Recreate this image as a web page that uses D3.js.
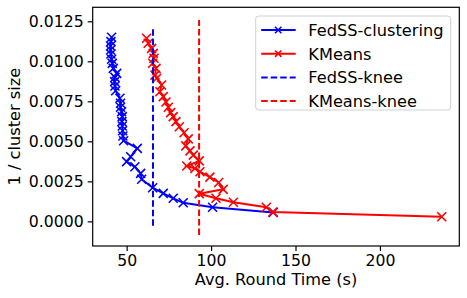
<!DOCTYPE html>
<html>
<head>
<meta charset="utf-8">
<script src="https://cdn.jsdelivr.net/npm/d3@7"></script>
<style>
  body { margin: 0; background: #fff; }
  text { font-family: "DejaVu Sans", sans-serif; }
</style>
</head>
<body>
<div id="chart"></div>
<script>
// values
var fedssX = [41.1, 40.7, 40.5, 40.5, 40.7, 41.1, 41.5, 42.1, 44.1, 43.1, 42.9, 43.1, 43.5,
    46.0, 46.4, 46.4, 47.0, 47.4, 47.2, 47.4, 47.6, 47.8, 48.2, 56.3, 52.4, 50.0, 54.9,
    58.3, 58.9, 65.4, 71.7, 77.6, 83.5, 100.9, 136.8];
var fedssY = [0.01150, 0.01123, 0.01096, 0.01071, 0.01046, 0.01013, 0.00987, 0.00956, 0.00925,
    0.00900, 0.00873, 0.00846, 0.00816, 0.00769, 0.00738, 0.00713, 0.00685, 0.00654, 0.00623,
    0.00596, 0.00566, 0.00533, 0.00504, 0.00456, 0.00404, 0.00373, 0.00341, 0.00300, 0.00263,
    0.00210, 0.00175, 0.00144, 0.00116, 0.00088, 0.00056];

var kmeansX = [61.8, 62.8, 64.8, 65.8, 66.2, 65.4, 67.4, 66.8, 67.8, 70.7, 69.7, 71.7, 73.3,
    74.7, 76.1, 77.6, 79.2, 81.2, 84.0, 86.5, 85.0, 87.5, 89.5, 93.0, 85.6, 90.4, 93.4, 99.3,
    104.5, 107.2, 93.0, 102.9, 113.2, 132.7, 136.6, 236.6];
var kmeansY = [0.01144, 0.01113, 0.01081, 0.01050, 0.01019, 0.00988, 0.00956, 0.00914, 0.00894,
    0.00852, 0.00810, 0.00779, 0.00746, 0.00713, 0.00679, 0.00654, 0.00623, 0.00591, 0.00554,
    0.00515, 0.00472, 0.00440, 0.00414, 0.00378, 0.00346, 0.00331, 0.00310, 0.00276, 0.00243,
    0.00200, 0.00173, 0.00144, 0.00119, 0.00088, 0.00058, 0.00029];

var fedssKnee = 65.6, fedssKneeRange = [-0.00027, 0.01206];
var kmeansKnee = 92.9, kmeansKneeRange = [-0.00086, 0.01258];

var xTicks = [50, 100, 150, 200];
var yTicks = [0, 0.0025, 0.005, 0.0075, 0.01, 0.0125];
var legendLabels = ["FedSS-clustering", "KMeans", "FedSS-knee", "KMeans-knee"];

var width = 467, height = 298;
var plotL = 92.7, plotR = 459.3, plotT = 7.3, plotB = 246;
var tickFont = 15.7, labelFont = 16.2;

var svg = d3.select("#chart").append("svg")
    .attr("width", width)
    .attr("height", height);

var x = d3.scaleLinear().domain([29.9, 247]).range([plotL, plotR]);
var y = d3.scaleLinear().domain([-0.00154, 0.013375]).range([plotB, plotT]);

// axes
var xAxis = svg.append("g")
    .attr("transform", "translate(0," + plotB + ")")
    .call(d3.axisBottom(x).tickValues(xTicks).tickSize(5).tickPadding(4).tickFormat(d3.format("d")));
var yAxis = svg.append("g")
    .attr("transform", "translate(" + plotL + ",0)")
    .call(d3.axisLeft(y).tickValues(yTicks).tickSize(5).tickPadding(4).tickFormat(d3.format(".4f")));

[xAxis, yAxis].forEach(function(a) {
    a.select(".domain").remove();
    a.selectAll(".tick line").attr("stroke", "#000").attr("stroke-width", 1.2);
    a.selectAll(".tick text")
        .attr("fill", "#000")
        .style("font-size", tickFont + "px")
        .style("font-family", "DejaVu Sans");
});

svg.append("rect")
    .attr("x", plotL).attr("y", plotT)
    .attr("width", plotR - plotL).attr("height", plotB - plotT)
    .attr("fill", "none").attr("stroke", "#000").attr("stroke-width", 1.2);

var line = d3.line()
    .x(function(d) { return x(d[0]); })
    .y(function(d) { return y(d[1]); });

function drawSeries(xs, ys, color) {
    var pts = xs.map(function(v, i) { return [v, ys[i]]; });
    var g = svg.append("g");
    g.append("path")
        .attr("d", line(pts))
        .attr("fill", "none")
        .attr("stroke", color)
        .attr("stroke-width", 2);
    g.selectAll("path.mk")
        .data(pts)
        .enter().append("path")
        .attr("class", "mk")
        .attr("d", function(d) {
            var cx = x(d[0]), cy = y(d[1]), r = 4.5;
            return "M" + (cx - r) + "," + (cy - r) + "L" + (cx + r) + "," + (cy + r) +
                "M" + (cx - r) + "," + (cy + r) + "L" + (cx + r) + "," + (cy - r);
        })
        .attr("stroke", color)
        .attr("stroke-width", 1.6);
}

drawSeries(fedssX, fedssY, "#0000ff");
drawSeries(kmeansX, kmeansY, "#ff0000");

function drawKnee(k, range, color) {
    svg.append("line")
        .attr("x1", x(k)).attr("x2", x(k))
        .attr("y1", y(range[0])).attr("y2", y(range[1]))
        .attr("stroke", color)
        .attr("stroke-width", 2)
        .attr("stroke-dasharray", "6.5,3");
}
drawKnee(fedssKnee, fedssKneeRange, "#0000ff");
drawKnee(kmeansKnee, kmeansKneeRange, "#ff0000");

// axis labels
svg.append("text")
    .attr("x", (plotL + plotR) / 2).attr("y", 285)
    .attr("text-anchor", "middle")
    .style("font-size", labelFont + "px")
    .text("Avg. Round Time (s)");
svg.append("text")
    .attr("transform", "translate(20," + ((plotT + plotB) / 2) + ") rotate(-90)")
    .attr("text-anchor", "middle")
    .style("font-size", labelFont + "px")
    .text("1 / cluster size");

// legend
var legend = svg.append("g").attr("transform", "translate(255.7,16)");
legend.append("rect")
    .attr("width", 195).attr("height", 94)
    .attr("rx", 3)
    .attr("fill", "#fff").attr("fill-opacity", 0.8)
    .attr("stroke", "#d0d0d0").attr("stroke-width", 1);

var legendColors = ["#0000ff", "#ff0000", "#0000ff", "#ff0000"];
legendLabels.forEach(function(lbl, i) {
    var cy = 14 + i * 23.7;
    var row = legend.append("g");
    row.append("line")
        .attr("x1", 5.5).attr("x2", 40)
        .attr("y1", cy).attr("y2", cy)
        .attr("stroke", legendColors[i])
        .attr("stroke-width", 2)
        .attr("stroke-dasharray", i < 2 ? null : "6.5,3");
    if (i < 2) {
        var mx = 22.5, r = 3.2;
        row.append("path")
            .attr("d", "M" + (mx - r) + "," + (cy - r) + "L" + (mx + r) + "," + (cy + r) +
                "M" + (mx - r) + "," + (cy + r) + "L" + (mx + r) + "," + (cy - r))
            .attr("stroke", legendColors[i])
            .attr("stroke-width", 1.6);
    }
    row.append("text")
        .attr("x", 52.6).attr("y", cy)
        .attr("dy", "0.36em")
        .style("font-size", labelFont + "px")
        .text(lbl);
});
</script>
</body>
</html>
